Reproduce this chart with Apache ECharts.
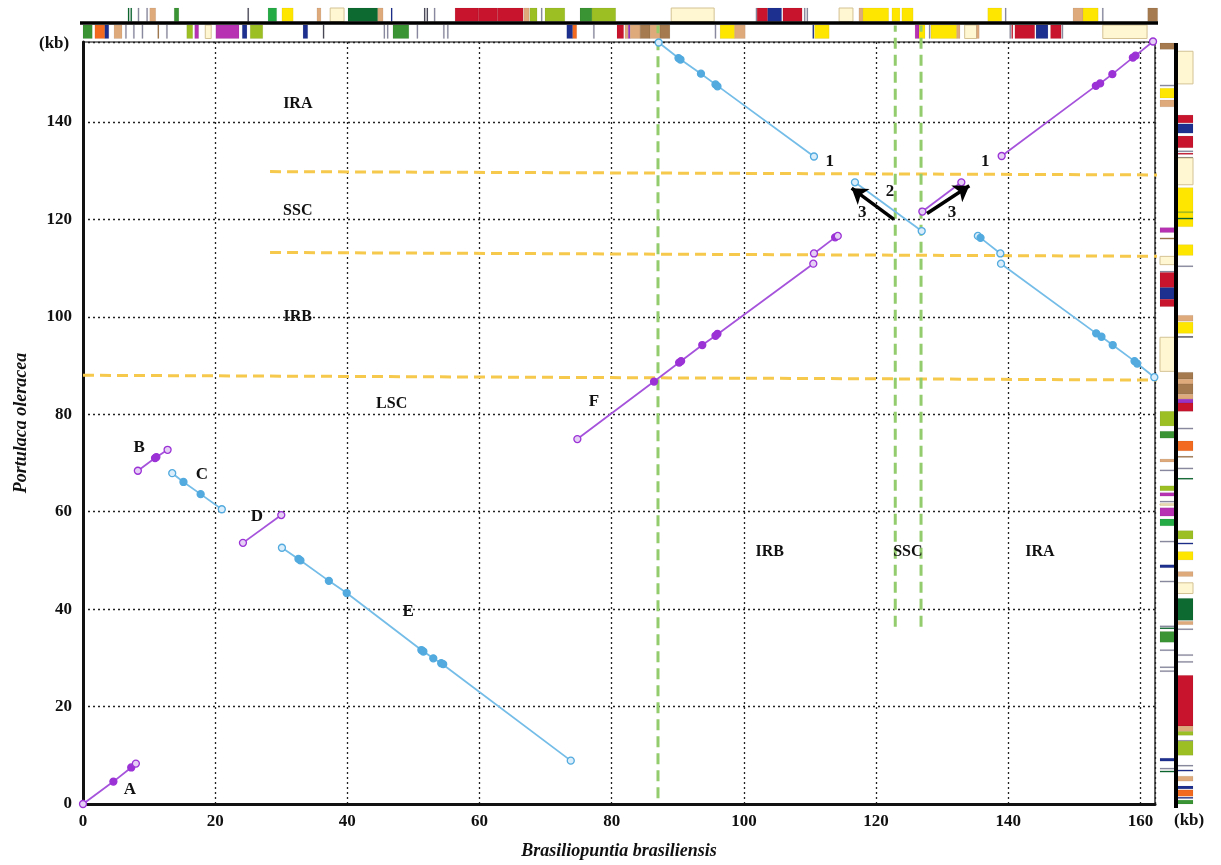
<!DOCTYPE html>
<html>
<head>
<meta charset="utf-8">
<title>Brasiliopuntia vs Portulaca dot plot</title>
<script src="https://cdn.jsdelivr.net/npm/echarts@6/dist/echarts.min.js"></script>
<style>
  html, body { margin: 0; padding: 0; background: #fff; }
  #chart { width: 1221px; height: 865px; }
</style>
</head>
<body>
<div id="chart"></div>
<script>
  // tick labels (kb)
  var xTickLabels = [0, 20, 40, 60, 80, 100, 120, 140, 160];
  var yTickLabels = [0, 20, 40, 60, 80, 100, 120, 140];

  // collinear blocks [x kb, y kb]
  var blockA = [[0, 0], [4.6, 4.6], [7.3, 7.5], [8.0, 8.3]];
  var blockB = [[8.3, 68.4], [10.9, 71.0], [11.1, 71.2], [12.8, 72.7]];
  var blockC = [[13.5, 67.9], [15.2, 66.1], [17.8, 63.6], [21.0, 60.5]];
  var blockD = [[24.2, 53.6], [30.0, 59.3]];
  var blockE = [[30.1, 52.6], [32.6, 50.3], [32.9, 50.0], [37.2, 45.8], [39.9, 43.3], [51.2, 31.6], [51.5, 31.3], [53.0, 29.9], [54.2, 28.9], [54.5, 28.7], [73.8, 8.9]];
  var blockF = [[74.8, 74.9], [86.4, 86.7], [90.2, 90.6], [90.5, 90.9], [93.7, 94.2], [95.7, 96.1], [96.0, 96.5], [110.5, 110.9]];
  var blockF2 = [[110.6, 113.0], [113.8, 116.3], [114.2, 116.6]];
  var blockIRA1 = [[87.1, 156.3], [90.1, 153.1], [90.4, 152.8], [93.5, 149.9], [95.7, 147.7], [96.0, 147.3], [110.6, 132.9]];
  var blockSSC2 = [[116.8, 127.6], [126.9, 117.6]];
  var blockSSC3 = [[127.0, 121.6], [132.9, 127.6]];
  var blockIRA2 = [[139.0, 133.0], [153.25, 147.4], [153.9, 147.9], [155.75, 149.8], [158.85, 153.2], [159.25, 153.6], [161.9, 156.5]];
  var blockIRB1 = [[135.4, 116.6], [135.8, 116.2], [138.8, 113.0]];
  var blockIRB2 = [[138.9, 110.9], [153.3, 96.6], [154.1, 95.9], [155.8, 94.2], [159.1, 90.9], [159.5, 90.4], [162.1, 87.6]];

  // region boundaries
  var yellowLines = [
    [[28.3, 129.8], [165.2, 129.1]],
    [[28.3, 113.2], [165.2, 112.4]],
    [[0, 88.0], [165.2, 87.0]]
  ];
  var greenLines = [
    [[87.0, 1.2], [87.0, 159.8]],
    [[122.9, 36.4], [122.9, 159.8]],
    [[126.8, 36.4], [126.8, 159.8]]
  ];
  var arrows = [
    [[122.7, 120.0], [116.3, 126.4]],
    [[127.7, 121.2], [134.1, 126.9]]
  ];

  // labels
  var regionText = ['IRA', 'SSC', 'IRB', 'LSC', 'IRB', 'SSC', 'IRA'];
  var regionX = [32.5, 32.5, 32.5, 46.7, 103.9, 124.8, 144.8];
  var regionY = [143.7, 121.8, 99.9, 82.1, 51.8, 51.8, 51.8];
  var blockText = ['A', 'B', 'C', 'D', 'E', 'F', '1', '1', '2', '3', '3'];
  var blockX = [7.1, 8.5, 18.0, 26.3, 49.2, 77.3, 113.0, 136.5, 122.1, 117.9, 131.5];
  var blockY = [2.9, 73.1, 67.7, 58.9, 39.4, 82.6, 131.8, 131.8, 125.7, 121.4, 121.4];

  // gene maps [start kb, end kb, colour]
  var topUpper = [[6.8, 6.8, 'dg'], [7.2, 7.2, 'dg'], [8.3, 8.3, 'gy'], [9.6, 9.6, 'gy'], [10.1, 11.0, 'tn'], [13.8, 14.5, 'gn'], [24.9, 24.9, 'k'], [28.0, 29.3, 'bg'], [30.1, 31.8, 'ye'], [35.4, 36.0, 'tn'], [37.4, 39.5, 'cr'], [40.1, 44.6, 'dg'], [44.6, 45.4, 'tn'], [46.6, 46.6, 'bl'], [51.6, 51.6, 'k'], [52.0, 52.0, 'k'], [53.1, 53.1, 'gy'], [56.3, 59.8, 'rd'], [59.8, 62.7, 'rd'], [62.7, 66.6, 'rd'], [66.7, 67.5, 'tn'], [67.6, 68.7, 'ol'], [69.3, 69.3, 'gy'], [69.9, 72.9, 'ol'], [75.2, 77.0, 'gn'], [77.0, 80.6, 'ol'], [89.0, 95.5, 'cr'], [101.8, 101.8, 'gy'], [102.0, 103.6, 'rd'], [103.6, 105.7, 'bl'], [105.9, 108.8, 'rd'], [109.1, 109.1, 'gy'], [109.5, 109.5, 'gy'], [114.4, 116.5, 'cr'], [117.4, 118.0, 'tn'], [118.0, 121.9, 'ye'], [122.4, 123.6, 'ye'], [123.9, 125.6, 'ye'], [136.9, 139.0, 'ye'], [139.5, 139.5, 'gy'], [149.8, 151.3, 'tn'], [151.3, 153.6, 'ye'], [154.2, 154.2, 'gy'], [161.1, 162.6, 'br']];
  var topLower = [[0, 1.4, 'gn'], [1.8, 3.3, 'or'], [3.3, 3.9, 'bl'], [4.7, 5.9, 'tn'], [6.4, 6.4, 'gy'], [7.6, 7.6, 'gy'], [8.9, 8.9, 'gy'], [11.3, 11.3, 'br'], [12.6, 12.6, 'gy'], [15.7, 16.6, 'ol'], [16.9, 17.5, 'mg'], [18.5, 19.4, 'cr'], [20.1, 23.6, 'mg'], [24.1, 24.8, 'bl'], [25.3, 27.2, 'ol'], [33.3, 34.0, 'bl'], [36.3, 36.3, 'k'], [45.5, 45.5, 'gy'], [46.0, 46.0, 'gy'], [46.9, 49.3, 'gn'], [50.5, 50.5, 'gy'], [54.5, 54.5, 'gy'], [55.1, 55.1, 'gy'], [73.2, 74.1, 'bl'], [74.1, 74.7, 'or'], [77.2, 77.2, 'gy'], [80.8, 81.8, 'rd'], [82.0, 82.5, 'tn'], [82.5, 82.8, 'pu'], [82.8, 84.3, 'tn'], [84.3, 85.8, 'br'], [85.8, 87.3, 'tn'], [87.3, 88.8, 'br'], [95.6, 95.6, 'gy'], [96.4, 98.6, 'ye'], [98.6, 100.2, 'tn'], [110.4, 110.4, 'bl'], [110.7, 112.9, 'ye'], [125.9, 126.5, 'mg'], [126.5, 127.4, 'ye'], [128.0, 128.0, 'gy'], [128.3, 132.2, 'ye'], [132.2, 132.7, 'tn'], [133.4, 135.2, 'cr'], [135.2, 135.6, 'tn'], [140.2, 140.2, 'gy'], [140.5, 140.5, 'rd'], [141.0, 144.0, 'rd'], [144.2, 146.0, 'bl'], [146.4, 148.0, 'rd'], [148.1, 148.1, 'gy'], [154.3, 161.0, 'cr']];
  var rightInner = [[154.9, 156.2, 'br'], [147.6, 147.6, 'gy'], [144.9, 146.9, 'ye'], [143.1, 144.5, 'tn'], [117.3, 118.3, 'mg'], [116.2, 116.2, 'br'], [110.7, 112.4, 'cr'], [109.4, 109.4, 'gy'], [106.0, 109.1, 'rd'], [103.6, 106.0, 'bl'], [102.1, 103.6, 'rd'], [88.8, 95.8, 'cr'], [77.6, 80.6, 'ol'], [75.1, 76.5, 'gn'], [70.2, 70.8, 'tn'], [68.6, 68.6, 'gy'], [64.3, 65.3, 'ol'], [63.2, 63.9, 'mg'], [62.2, 62.2, 'gy'], [61.6, 61.6, 'cr'], [59.1, 60.8, 'mg'], [57.1, 58.5, 'bg'], [54.0, 54.0, 'gy'], [48.5, 49.1, 'bl'], [45.8, 45.8, 'gy'], [36.6, 36.6, 'gy'], [36.2, 36.2, 'dg'], [33.2, 35.4, 'gn'], [31.7, 31.7, 'gy'], [28.2, 28.2, 'gy'], [27.4, 27.4, 'gy'], [8.8, 9.4, 'bl'], [7.4, 7.4, 'gy'], [6.8, 6.8, 'dg']];
  var rightOuter = [[147.8, 154.5, 'cr'], [139.8, 141.4, 'rd'], [137.7, 139.6, 'bl'], [134.7, 137.1, 'rd'], [134.1, 134.1, 'gy'], [133.6, 133.6, 'rd'], [132.8, 132.8, 'k'], [127.1, 132.6, 'cr'], [118.5, 126.5, 'ye'], [121.6, 121.6, 'ol'], [120.3, 120.3, 'dg'], [112.6, 114.8, 'ye'], [110.5, 110.5, 'gy'], [99.1, 100.3, 'tn'], [96.6, 98.9, 'ye'], [96.0, 96.0, 'k'], [87.2, 88.6, 'br'], [86.2, 87.2, 'tn'], [84.1, 86.2, 'br'], [83.1, 84.1, 'tn'], [82.3, 83.1, 'pu'], [80.6, 82.3, 'rd'], [77.2, 77.2, 'gy'], [72.5, 74.5, 'or'], [71.4, 71.4, 'br'], [69.0, 69.0, 'gy'], [66.9, 66.9, 'dg'], [54.4, 56.1, 'ol'], [53.6, 53.6, 'bl'], [50.1, 51.8, 'ye'], [46.7, 47.7, 'tn'], [43.2, 45.4, 'cr'], [37.7, 42.2, 'dg'], [36.8, 37.5, 'tn'], [36.0, 36.0, 'gy'], [30.7, 30.7, 'gy'], [29.3, 29.3, 'gy'], [16.0, 26.4, 'rd'], [14.9, 16.0, 'tn'], [14.1, 14.9, 'ol'], [13.1, 13.1, 'gy'], [10.0, 12.9, 'ol'], [8.0, 8.0, 'gy'], [7.0, 7.0, 'bl'], [4.7, 5.7, 'tn'], [3.1, 3.7, 'bl'], [1.6, 2.9, 'or'], [1.4, 1.4, 'bl'], [0, 0.8, 'gn']];

  var geneColors = {
    rd: '#c8142c', bl: '#1d2f8f', dg: '#0d6a30', gn: '#3a9433', bg: '#25ab45',
    ol: '#9cbf24', ye: '#ffe600', cr: '#fff6d2', tn: '#deaa7c', br: '#a47a4e',
    or: '#f26a1f', mg: '#b632b2', pu: '#9a33c4', gy: '#8e8ea6', k: '#4a4a5a'
  };
  var purple = { line: '#a653dc', dot: '#9b32d6', light: '#e6cff5' };
  var blue = { line: '#74bde8', dot: '#52aade', light: '#d9eefa' };

  var serif = '"Liberation Serif", "DejaVu Serif", serif';
  var gridLeft = 83, gridRight = 66, gridTop = 42, gridBottom = 59;

  var myChart = echarts.init(document.getElementById('chart'));

  function blockSeries(pts, c) {
    return {
      type: 'line',
      data: pts.map(function (p, i) {
        var end = i === 0 || i === pts.length - 1;
        return { value: p, itemStyle: { color: end ? c.light : c.dot, borderColor: c.dot, borderWidth: 1.3 } };
      }),
      symbol: 'circle',
      symbolSize: 7,
      lineStyle: { color: c.line, width: 1.8 },
      clip: false,
      silent: true,
      z: 5
    };
  }

  function dashSeries(pts, color) {
    return {
      type: 'line',
      data: pts,
      symbol: 'none',
      lineStyle: { color: color, width: 3, type: [11, 6] },
      clip: false,
      silent: true,
      z: 3
    };
  }

  function geneStyle(key) {
    return {
      fill: geneColors[key],
      stroke: key === 'cr' ? '#d4c294' : 'rgba(0,0,0,0.12)',
      lineWidth: key === 'cr' ? 1 : 0.5
    };
  }

  // top gene tracks drawn along x
  function topTrack(arr, offset) {
    return {
      type: 'custom',
      data: arr.map(function (d) { return [d[0], d[1]]; }),
      clip: false,
      silent: true,
      z: 2,
      renderItem: function (params, api) {
        var d = arr[params.dataIndex];
        var a = api.coord([d[0], 0])[0];
        var b = api.coord([d[1], 0])[0];
        var top = params.coordSys.y;
        return {
          type: 'rect',
          shape: { x: a, y: top + offset, width: Math.max(b - a, 1.3), height: 13.5 },
          style: geneStyle(d[2])
        };
      }
    };
  }

  // right gene tracks drawn along y
  function rightTrack(arr, offset, w) {
    return {
      type: 'custom',
      data: arr.map(function (d) { return [0, d[0]]; }),
      clip: false,
      silent: true,
      z: 2,
      renderItem: function (params, api) {
        var d = arr[params.dataIndex];
        var a = api.coord([0, d[1]])[1];
        var b = api.coord([0, d[0]])[1];
        var right = params.coordSys.x + params.coordSys.width;
        return {
          type: 'rect',
          shape: { x: right + offset, y: a, width: w, height: Math.max(b - a, 1.3) },
          style: geneStyle(d[2])
        };
      }
    };
  }

  function textSeries(texts, xs, ys, size) {
    return {
      type: 'custom',
      data: xs.map(function (x, i) { return [x, ys[i]]; }),
      clip: false,
      silent: true,
      z: 8,
      renderItem: function (params, api) {
        var p = api.coord([api.value(0), api.value(1)]);
        return {
          type: 'text',
          x: p[0],
          y: p[1],
          style: {
            text: texts[params.dataIndex],
            font: 'bold ' + size + 'px ' + serif,
            fill: '#111',
            align: 'center',
            verticalAlign: 'middle'
          }
        };
      }
    };
  }

  var series = [];
  yellowLines.forEach(function (l) { series.push(dashSeries(l, '#f6c94c')); });
  greenLines.forEach(function (l) { series.push(dashSeries(l, '#92cc6c')); });
  [blockA, blockB, blockD, blockF, blockF2, blockSSC3, blockIRA2].forEach(function (b) { series.push(blockSeries(b, purple)); });
  [blockC, blockE, blockIRA1, blockSSC2, blockIRB1, blockIRB2].forEach(function (b) { series.push(blockSeries(b, blue)); });
  series.push({
    type: 'lines',
    coordinateSystem: 'cartesian2d',
    data: arrows.map(function (a) { return { coords: a }; }),
    symbol: ['none', 'arrow'],
    symbolSize: 15,
    lineStyle: { color: '#000', width: 3.5, curveness: 0, opacity: 1 },
    silent: true,
    z: 7
  });
  series.push(topTrack(topUpper, -34));
  series.push(topTrack(topLower, -17));
  series.push(rightTrack(rightInner, 5, 14.5));
  series.push(rightTrack(rightOuter, 22.5, 15.5));
  series.push(textSeries(regionText, regionX, regionY, 16));
  series.push(textSeries(blockText, blockX, blockY, 17));

  var option = {
    animation: false,
    backgroundColor: '#fff',
    grid: {
      left: gridLeft, right: gridRight, top: gridTop, bottom: gridBottom,
      show: true, borderColor: '#000', borderWidth: 1.2, backgroundColor: 'transparent'
    },
    xAxis: {
      type: 'value',
      min: 0,
      max: 162.2,
      interval: 20,
      name: 'Brasiliopuntia brasiliensis',
      nameLocation: 'middle',
      nameGap: 38,
      nameTextStyle: { fontFamily: serif, fontWeight: 'bold', fontStyle: 'italic', fontSize: 18, color: '#111' },
      axisLine: { show: true, lineStyle: { color: '#111', width: 3 } },
      axisTick: { show: false },
      axisLabel: {
        margin: 9,
        fontFamily: serif, fontWeight: 'bold', fontSize: 17, color: '#111',
        formatter: function (v) { return xTickLabels.indexOf(v) >= 0 ? String(v) : ''; }
      },
      splitLine: { show: true, lineStyle: { color: '#222', width: 1.3, type: [2, 3] } }
    },
    yAxis: {
      type: 'value',
      min: 0,
      max: 156.4,
      interval: 20,
      name: 'Portulaca oleracea',
      nameLocation: 'middle',
      nameGap: 53,
      nameTextStyle: { fontFamily: serif, fontWeight: 'bold', fontStyle: 'italic', fontSize: 18, color: '#111' },
      axisLine: { show: true, lineStyle: { color: '#111', width: 3 } },
      axisTick: { show: false },
      axisLabel: {
        margin: 11,
        fontFamily: serif, fontWeight: 'bold', fontSize: 17, color: '#111',
        formatter: function (v) { return yTickLabels.indexOf(v) >= 0 ? String(v) : ''; }
      },
      splitLine: { show: true, lineStyle: { color: '#222', width: 1.3, type: [2, 3] } }
    },
    graphic: [
      // separator lines of the gene maps
      { type: 'line', shape: { x1: gridLeft - 3, y1: gridTop - 19, x2: 1221 - gridRight + 3, y2: gridTop - 19 }, style: { stroke: '#000', lineWidth: 3.5 }, z: 10 },
      { type: 'line', shape: { x1: 1221 - gridRight + 21, y1: gridTop + 1, x2: 1221 - gridRight + 21, y2: 865 - gridBottom + 2 }, style: { stroke: '#000', lineWidth: 4 }, z: 10 },
      { type: 'text', left: 39, top: 35, style: { text: '(kb)', font: 'bold 17px ' + serif, fill: '#111' } },
      { type: 'text', left: 1174, top: 812, style: { text: '(kb)', font: 'bold 17px ' + serif, fill: '#111' } }
    ],
    series: series
  };

  myChart.setOption(option);
  window.addEventListener('resize', function () { myChart.resize(); });
</script>
</body>
</html>
